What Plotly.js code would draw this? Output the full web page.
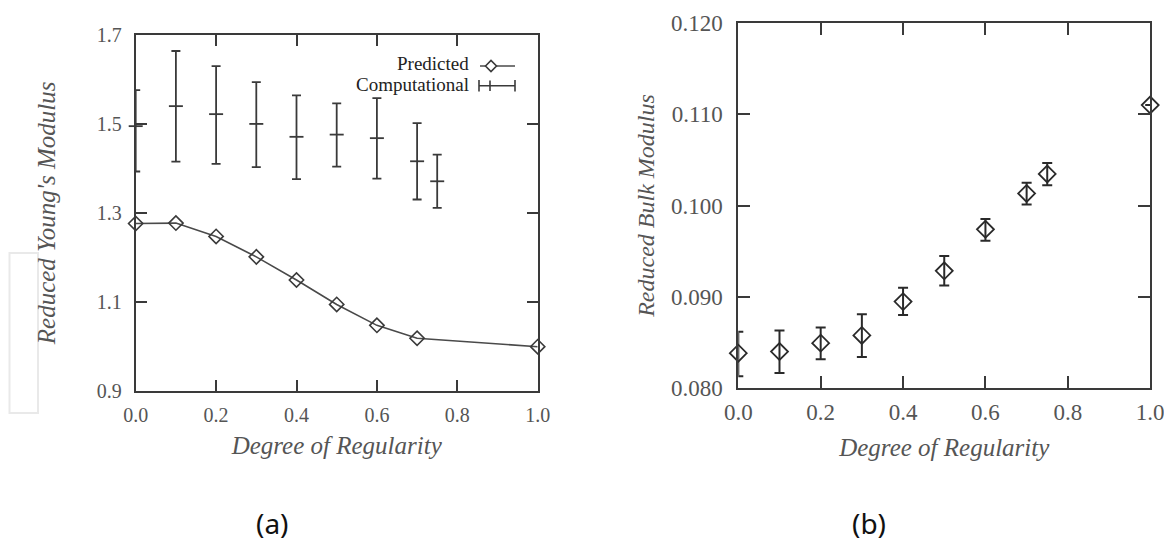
<!DOCTYPE html>
<html>
<head>
<meta charset="utf-8">
<script src="https://cdn.plot.ly/plotly-3.0.1.min.js"></script>
<style>html,body{margin:0;padding:0;background:#fff;}#chart{width:1164px;height:545px;}</style>
</head>
<body>
<div id="chart"></div>
<script>
// ---- Panel (a): Reduced Young's Modulus ----
const predX = [0.0, 0.1, 0.2, 0.3, 0.4, 0.5, 0.6, 0.7, 1.0];
const predY = [1.276, 1.277, 1.247, 1.201, 1.149, 1.094, 1.047, 1.018, 0.999];

const compX     = [0.0,   0.1,   0.2,   0.3,   0.4,   0.5,   0.6,   0.7,   0.75];
const compY     = [1.495, 1.540, 1.522, 1.500, 1.471, 1.476, 1.468, 1.416, 1.371];
const compUpper = [1.576, 1.664, 1.630, 1.594, 1.564, 1.546, 1.558, 1.502, 1.431];
const compLower = [1.393, 1.415, 1.410, 1.403, 1.376, 1.404, 1.377, 1.330, 1.311];

const aXTicks = [0.0, 0.2, 0.4, 0.6, 0.8, 1.0];
const aXTickText = ['0.0', '0.2', '0.4', '0.6', '0.8', '1.0'];
const aYTicks = [0.9, 1.1, 1.3, 1.5, 1.7];
const aYTickText = ['0.9', '1.1', '1.3', '1.5', '1.7'];

// ---- Panel (b): Reduced Bulk Modulus ----
const bulkX     = [0.0,     0.1,     0.2,     0.3,     0.4,     0.5,     0.6,     0.7,     0.75,    1.0];
const bulkY     = [0.08379, 0.08397, 0.08489, 0.08574, 0.08945, 0.09283, 0.09739, 0.10132, 0.10346, 0.11103];
const bulkUpper = [0.08614, 0.08629, 0.08662, 0.08805, 0.09096, 0.09445, 0.09853, 0.10250, 0.10467, null];
const bulkLower = [0.08125, 0.08162, 0.08313, 0.08338, 0.08798, 0.09121, 0.09614, 0.10011, 0.10221, null];

const bXTicks = [0.0, 0.2, 0.4, 0.6, 0.8, 1.0];
const bXTickText = ['0.0', '0.2', '0.4', '0.6', '0.8', '1.0'];
const bYTicks = [0.080, 0.090, 0.100, 0.110, 0.120];
const bYTickText = ['0.080', '0.090', '0.100', '0.110', '0.120'];

// ---- helpers ----
const W = 1164, H = 545;
const px = x => x / W;
const py = y => 1 - y / H;
const up = (c, u) => c.map((v, i) => (u[i] == null ? null : u[i] - v));
const dn = (c, l) => c.map((v, i) => (l[i] == null ? null : v - l[i]));

const ink = '#3a3a3a';
const serif = 'Liberation Serif';

const traces = [
  {
    x: predX, y: predY, name: 'Predicted', type: 'scatter', mode: 'lines+markers',
    xaxis: 'x', yaxis: 'y', cliponaxis: false,
    line: {color: '#4a4a4a', width: 1.6},
    marker: {symbol: 'diamond-open', size: 11, color: '#3a3a3a', line: {width: 1.6, color: '#3a3a3a'}}
  },
  {
    x: compX, y: compY, name: 'Computational', type: 'scatter', mode: 'markers',
    xaxis: 'x', yaxis: 'y', cliponaxis: false,
    marker: {symbol: 'line-ew', size: 10, color: '#3a3a3a', line: {width: 1.8, color: '#3a3a3a'}},
    error_y: {type: 'data', symmetric: false, array: up(compY, compUpper), arrayminus: dn(compY, compLower),
              color: '#3a3a3a', thickness: 1.8, width: 4.5}
  },
  {
    x: bulkX, y: bulkY, name: 'Bulk', type: 'scatter', mode: 'markers',
    xaxis: 'x2', yaxis: 'y2', cliponaxis: false,
    marker: {symbol: 'diamond-open', size: 13, color: '#2a2a2a', line: {width: 1.8, color: '#2a2a2a'}},
    error_y: {type: 'data', symmetric: false, array: up(bulkY, bulkUpper), arrayminus: dn(bulkY, bulkLower),
              color: '#2a2a2a', thickness: 2, width: 5}
  }
];

function axisStyle(extra) {
  return Object.assign({
    showline: true, linewidth: 2, linecolor: ink, mirror: 'allticks',
    ticks: 'inside', tickwidth: 2, tickcolor: ink,
    showgrid: false, zeroline: false, fixedrange: true, ticklabeloverflow: 'allow'
  }, extra);
}

const layout = {
  width: W, height: H,
  margin: {l: 0, r: 0, t: 0, b: 0},
  paper_bgcolor: '#fff', plot_bgcolor: '#fff',
  showlegend: false,
  xaxis: axisStyle({
    domain: [px(135.7), px(537.7)], range: [0, 1], anchor: 'y',
    tickvals: aXTicks, ticktext: aXTickText, ticklen: 11, ticklabelstandoff: 5,
    tickfont: {family: serif, size: 20, color: '#555'},
    title: {text: '<i>Degree of Regularity</i>', font: {family: serif, size: 25, color: '#555'}, standoff: 12}
  }),
  yaxis: axisStyle({
    domain: [py(390.7), py(35)], range: [0.9, 1.7], anchor: 'x',
    tickvals: aYTicks, ticktext: aYTickText, ticklen: 11, ticklabelstandoff: 8,
    tickfont: {family: serif, size: 20, color: '#555'},
    title: {text: "<i>Reduced Young's Modulus</i>", font: {family: serif, size: 25, color: '#555'}, standoff: 34}
  }),
  xaxis2: axisStyle({
    domain: [px(738.3), px(1150.2)], range: [0, 1], anchor: 'y2',
    tickvals: bXTicks, ticktext: bXTickText, ticklen: 12, ticklabelstandoff: 3,
    tickfont: {family: serif, size: 23, color: '#555'},
    title: {text: '<i>Degree of Regularity</i>', font: {family: serif, size: 25, color: '#555'}, standoff: 14}
  }),
  yaxis2: axisStyle({
    domain: [py(387.7), py(23.3)], range: [0.080, 0.120], anchor: 'x2',
    tickvals: bYTicks, ticktext: bYTickText, ticklen: 12, ticklabelstandoff: 9,
    tickfont: {family: serif, size: 23, color: '#555'},
    title: {text: '<i>Reduced Bulk Modulus</i>', font: {family: serif, size: 24, color: '#555'}, standoff: 10}
  }),
  annotations: [
    {xref: 'paper', yref: 'paper', x: px(470), y: py(63.5), xanchor: 'right', yanchor: 'middle', showarrow: false,
     borderpad: 0, text: 'Predicted', font: {family: serif, size: 19, color: '#222'}},
    {xref: 'paper', yref: 'paper', x: px(470), y: py(85), xanchor: 'right', yanchor: 'middle', showarrow: false,
     borderpad: 0, text: 'Computational', font: {family: serif, size: 19, color: '#222'}},
    {xref: 'paper', yref: 'paper', x: px(272), y: py(523), xanchor: 'center', yanchor: 'middle', showarrow: false,
     text: '(a)', font: {family: 'Noto Sans', size: 28, color: '#111'}},
    {xref: 'paper', yref: 'paper', x: px(869), y: py(523), xanchor: 'center', yanchor: 'middle', showarrow: false,
     text: '(b)', font: {family: 'Noto Sans', size: 28, color: '#111'}}
  ],
  shapes: [
    // legend sample: Predicted
    {type: 'line', xref: 'paper', yref: 'paper', x0: px(480), x1: px(515), y0: py(66), y1: py(66),
     line: {color: '#4a4a4a', width: 1.6}},
    {type: 'path', xref: 'paper', yref: 'paper', fillcolor: '#fff',
     path: 'M' + px(485.5) + ',' + py(66) + ' L' + px(491) + ',' + py(60.5) + ' L' + px(496.5) + ',' + py(66) +
           ' L' + px(491) + ',' + py(71.5) + ' Z', line: {color: '#3a3a3a', width: 1.6}},
    // legend sample: Computational
    {type: 'line', xref: 'paper', yref: 'paper', x0: px(479), x1: px(515), y0: py(85.7), y1: py(85.7),
     line: {color: '#3a3a3a', width: 1.6}},
    {type: 'line', xref: 'paper', yref: 'paper', x0: px(479), x1: px(479), y0: py(80), y1: py(91.5),
     line: {color: '#3a3a3a', width: 1.6}},
    {type: 'line', xref: 'paper', yref: 'paper', x0: px(515), x1: px(515), y0: py(80), y1: py(91.5),
     line: {color: '#3a3a3a', width: 1.6}},
    {type: 'line', xref: 'paper', yref: 'paper', x0: px(490), x1: px(490), y0: py(80.5), y1: py(91),
     line: {color: '#3a3a3a', width: 1.6}},
    // faint scan artefact box at left
    {type: 'rect', xref: 'paper', yref: 'paper', x0: px(9.5), x1: px(38), y0: py(253), y1: py(413),
     line: {color: '#e9e9e9', width: 2}, layer: 'below'}
  ]
};

Plotly.newPlot('chart', traces, layout, {displayModeBar: false, staticPlot: true});
</script>
</body>
</html>
